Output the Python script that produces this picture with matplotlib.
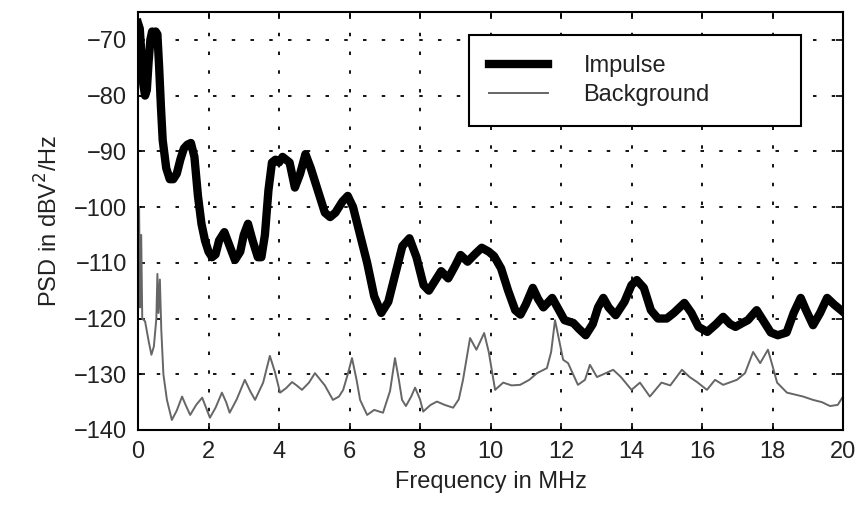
import numpy as np
import matplotlib
matplotlib.use('Agg')
import matplotlib.pyplot as plt

plt.rcParams['font.family'] = ['Liberation Sans', 'DejaVu Sans']
plt.rcParams['lines.scale_dashes'] = False

# datos
f_imp = [0, 0.05, 0.1, 0.15, 0.2, 0.25, 0.3, 0.35, 0.4, 0.45,
         0.5, 0.55, 0.6, 0.65, 0.7, 0.8, 0.9, 1.0, 1.1, 1.2,
         1.3, 1.4, 1.5, 1.6, 1.7, 1.8, 1.9, 2.0, 2.1, 2.2,
         2.3, 2.45, 2.6, 2.75, 2.9, 3.0, 3.12, 3.25, 3.4, 3.5,
         3.6, 3.7, 3.8, 3.9, 4.0, 4.1, 4.2, 4.3, 4.45, 4.6,
         4.75, 4.9, 5.1, 5.3, 5.45, 5.6, 5.8, 5.95, 6.1, 6.3,
         6.5, 6.7, 6.9, 7.1, 7.3, 7.5, 7.7, 7.9, 8.1, 8.25,
         8.4, 8.6, 8.8, 9.0, 9.15, 9.35, 9.55, 9.75, 9.95, 10.1,
         10.3, 10.5, 10.7, 10.85, 11.0, 11.2, 11.35, 11.5, 11.75, 11.9,
         12.1, 12.35, 12.5, 12.7, 12.9, 13.05, 13.2, 13.35, 13.55, 13.8,
         14.0, 14.15, 14.35, 14.55, 14.75, 15.0, 15.2, 15.5, 15.7, 15.9,
         16.15, 16.4, 16.6, 16.8, 16.95, 17.15, 17.3, 17.55, 17.75, 17.95,
         18.15, 18.4, 18.6, 18.8, 18.95, 19.15, 19.35, 19.55, 19.75, 20.0]
psd_imp = [-67, -68, -73, -78, -80, -79, -74, -70, -68.5, -69,
           -68.5, -69, -75, -82, -88, -93, -95, -95, -94, -91.5,
           -89.5, -88.8, -88.5, -91, -98, -103, -106, -108, -109, -108.5,
           -106, -104.5, -107, -109.5, -108, -105, -103, -106, -109, -109,
           -105, -97, -92, -91.5, -92, -91, -91.5, -92, -96.5, -94,
           -90.5, -93, -97, -101, -101.8, -101, -99, -98, -100, -105,
           -110, -116, -119, -117, -112, -107, -105.6, -109, -114, -115,
           -113.5, -111.5, -112.8, -110.5, -108.6, -109.8, -108.5, -107.3, -108, -108.8,
           -111, -115, -118.5, -119.3, -117.5, -114.5, -116.5, -118, -116.3, -118,
           -120.3, -120.8, -121.8, -123, -121, -118, -116.3, -118, -119.4, -117,
           -114, -113.1, -114.5, -118.5, -120, -120, -119, -117.2, -119, -121.5,
           -122.4, -121, -119.7, -121, -121.5, -120.8, -120.3, -118.5, -120.5, -122.5,
           -123, -122.5, -119, -116.3, -118.5, -121.2, -119, -116.3, -117.5, -118.8]

f_bg = [0, 0.03, 0.06, 0.09, 0.12, 0.2, 0.3, 0.38, 0.45, 0.52,
        0.55, 0.58, 0.62, 0.66, 0.72, 0.82, 0.96, 1.1, 1.25, 1.35,
        1.48, 1.65, 1.82, 1.93, 2.04, 2.2, 2.38, 2.5, 2.6, 2.8,
        3.03, 3.18, 3.32, 3.55, 3.74, 3.88, 4.03, 4.2, 4.37, 4.5,
        4.65, 4.85, 5.02, 5.3, 5.53, 5.7, 5.82, 5.95, 6.07, 6.2,
        6.3, 6.5, 6.7, 6.95, 7.15, 7.29, 7.4, 7.49, 7.6, 7.75,
        7.86, 8.0, 8.09, 8.3, 8.48, 8.7, 8.94, 9.1, 9.22, 9.42,
        9.6, 9.82, 9.95, 10.13, 10.36, 10.6, 10.84, 11.1, 11.32, 11.6,
        11.72, 11.83, 11.95, 12.06, 12.2, 12.48, 12.68, 12.82, 13.02, 13.2,
        13.48, 13.7, 14.0, 14.24, 14.52, 14.85, 15.1, 15.43, 15.65, 15.86,
        16.14, 16.37, 16.6, 16.99, 17.22, 17.45, 17.65, 17.87, 18.0, 18.13,
        18.41, 18.87, 19.15, 19.4, 19.63, 19.85, 20.0]
psd_bg = [-115, -100, -118, -105, -120, -120.5, -124, -126.5, -125, -120,
          -112, -119, -113, -122, -130, -134.6, -138.2, -136.5, -134, -135.5,
          -137.3, -135.5, -134.2, -136, -137.8, -136, -133.3, -135, -136.9, -134.5,
          -131, -133, -134.6, -131.5, -126.7, -129.5, -133.3, -132.5, -131.4, -132,
          -132.8, -131.5, -129.8, -132, -134.6, -134, -132.8, -130, -127.1, -131,
          -134.6, -137.3, -136.4, -136.9, -133, -127.1, -131, -134.6, -135.7, -134,
          -132.4, -134.5, -136.7, -135.5, -134.9, -135.5, -136, -134.5, -131, -123.5,
          -125.6, -122.6, -126, -132.8, -131.5, -132, -131.9, -131, -129.8, -128.9,
          -126, -120.3, -124, -127.4, -128, -131.9, -131, -128.3, -130.5, -130,
          -129.2, -130.5, -132.8, -131.5, -134, -131.5, -132, -129.2, -130.5, -131.4,
          -132.8, -131, -131.9, -131, -129.8, -126, -128, -125.6, -128.5, -131.5,
          -133.3, -134, -134.6, -135, -135.7, -135.5, -134]

xticks = np.arange(0, 21, 2)
yticks = np.arange(-140, -69, 10)

fig = plt.figure(figsize=(8.61, 5.17), dpi=100)
ax = fig.add_axes([0.1603, 0.1683, 0.8188, 0.8085])

ax.plot(f_imp, psd_imp, color='black', lw=6, solid_joinstyle='round', label='Impulse')
ax.plot(f_bg, psd_bg, color='#666666', lw=1.4, label='Background')

ax.set_xlim(0, 20)
ax.set_ylim(-140, -65)
ax.set_xticks(xticks)
ax.set_yticks(yticks)
ax.set_yticklabels(['\u2212%d' % abs(v) for v in yticks])
ax.tick_params(direction='in', length=5, width=1.2, top=True, right=True,
               labelsize=17, pad=8, colors='black', labelcolor='#222222')
for s in ax.spines.values():
    s.set_linewidth(1.5)

ax.grid(True, color='black', linestyle=(0, (2.5, 11)), linewidth=1.3)

ax.set_xlabel('Frequency in MHz', fontsize=17, color='#222222', labelpad=6)
ax.set_ylabel('PSD in dBV$^2$/Hz', fontsize=17, color='#222222', labelpad=8)

#leyenda en el mismo sitio que el original
leg = ax.legend(loc='upper left', mode='expand',
                bbox_to_anchor=(469 / 861, 1 - 123 / 517, 332 / 861, 88 / 517),
                bbox_transform=fig.transFigure, fontsize=17, fancybox=False,
                framealpha=1, edgecolor='black', handlelength=2.5,
                handletextpad=1.5, borderpad=0.85, labelspacing=0.3,
                borderaxespad=0)
leg.get_frame().set_linewidth(1.5)
for t in leg.get_texts():
    t.set_color('#222222')

fig.savefig('out.png', dpi=100)
